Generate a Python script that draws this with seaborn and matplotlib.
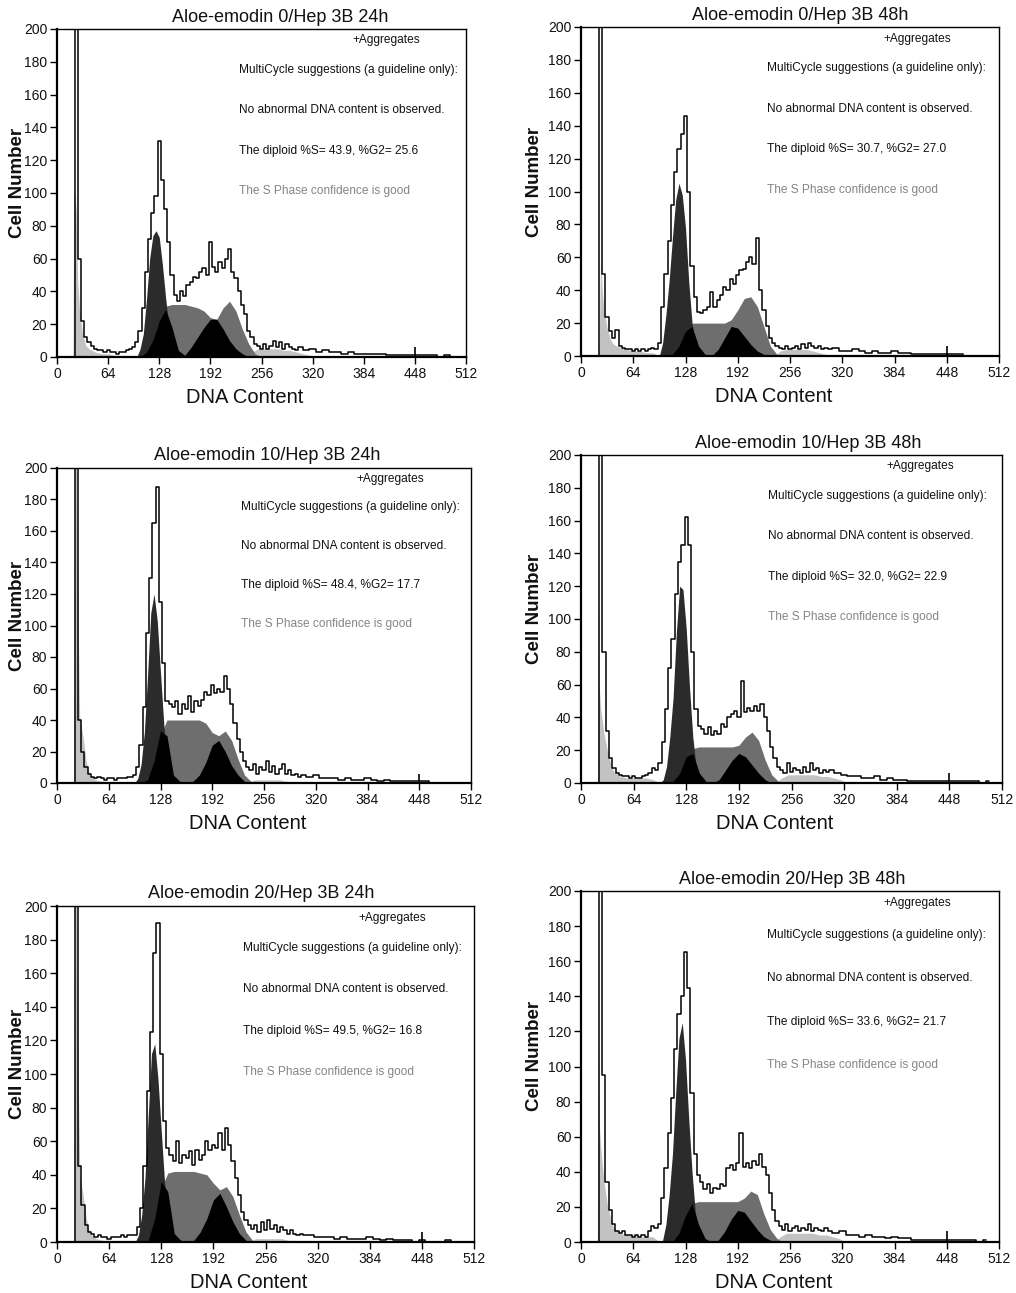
import matplotlib
matplotlib.use("Agg")
import matplotlib.pyplot as plt
import seaborn as sns

# ---------------- data ----------------
TITLES = ["Aloe-emodin 0/Hep 3B 24h", "Aloe-emodin 0/Hep 3B 48h",
          "Aloe-emodin 10/Hep 3B 24h", "Aloe-emodin 10/Hep 3B 48h",
          "Aloe-emodin 20/Hep 3B 24h", "Aloe-emodin 20/Hep 3B 48h"]
S_LINES = ["The diploid %S= 43.9, %G2= 25.6", "The diploid %S= 30.7, %G2= 27.0",
           "The diploid %S= 48.4, %G2= 17.7", "The diploid %S= 32.0, %G2= 22.9",
           "The diploid %S= 49.5, %G2= 16.8", "The diploid %S= 33.6, %G2= 21.7"]
X_TICKS = [0, 64, 128, 192, 256, 320, 384, 448, 512]
Y_TICKS = [0, 20, 40, 60, 80, 100, 120, 140, 160, 180, 200]

# histogram envelope channels
ENV_X = list(range(16, 304, 4)) + list(range(304, 504, 8))
ENV_1 = [0, 0, 230, 60, 22, 12, 9, 7, 5, 4, 4, 3, 4, 3, 3, 2,
         3, 3, 4, 5, 6, 9, 16, 30, 52, 72, 88, 98, 132, 108, 90, 70,
         50, 38, 34, 40, 37, 44, 46, 49, 48, 52, 54, 50, 70, 55, 52, 58,
         54, 60, 66, 52, 48, 40, 32, 26, 16, 12, 8, 7, 5, 8, 5, 7,
         10, 6, 9, 5, 8, 6, 5, 4,
         6, 4, 5, 3, 4, 3, 3, 2, 3, 2, 2, 2, 2, 2, 1, 1, 1, 1, 1, 1, 1, 1, 0, 1, 0]
ENV_2 = [0, 0, 210, 50, 24, 15, 11, 16, 6, 5, 4, 4, 3, 4, 3, 4,
         3, 4, 5, 4, 8, 30, 50, 70, 92, 112, 126, 135, 146, 100, 55, 36,
         27, 26, 28, 30, 39, 30, 34, 37, 42, 40, 47, 44, 49, 52, 53, 57,
         60, 56, 72, 40, 28, 18, 11, 8, 6, 5, 4, 6, 4, 5, 6, 4,
         7, 5, 8, 6, 5, 6, 4, 5,
         4, 5, 3, 3, 4, 3, 2, 3, 2, 2, 3, 2, 2, 1, 1, 1, 1, 1, 1, 1, 1, 0, 0, 0, 0]
ENV_3 = [0, 0, 220, 40, 20, 10, 6, 4, 3, 4, 3, 2, 3, 3, 2, 3,
         3, 3, 4, 4, 5, 10, 24, 48, 95, 130, 165, 188, 115, 76, 52, 50,
         48, 52, 44, 50, 47, 55, 45, 52, 49, 53, 58, 56, 62, 57, 60, 58,
         68, 60, 50, 38, 28, 20, 14, 10, 8, 12, 6, 10, 8, 14, 7, 11,
         6, 9, 12, 6, 8, 5, 6, 4,
         5, 4, 5, 3, 3, 3, 2, 3, 2, 2, 3, 2, 1, 2, 1, 1, 1, 1, 1, 1, 0, 0, 0, 0, 0]
ENV_4 = [0, 0, 220, 80, 32, 15, 9, 6, 5, 4, 4, 3, 4, 3, 3, 4,
         5, 6, 9, 8, 12, 25, 45, 70, 88, 115, 135, 145, 162, 145, 80, 45,
         35, 33, 30, 34, 29, 32, 30, 36, 34, 40, 42, 44, 40, 62, 43, 46,
         44, 47, 44, 48, 40, 32, 22, 15, 10, 8, 6, 12, 7, 9, 8, 6,
         10, 7, 12, 8, 9, 6, 8, 7,
         8, 6, 5, 4, 4, 3, 3, 4, 2, 3, 2, 2, 1, 1, 1, 1, 1, 1, 1, 1, 1, 1, 1, 0, 1]
ENV_5 = [0, 0, 220, 45, 22, 10, 6, 5, 3, 4, 3, 3, 2, 3, 3, 3,
         4, 3, 4, 4, 4, 9, 20, 45, 90, 125, 172, 190, 112, 72, 56, 52,
         48, 60, 47, 52, 50, 54, 46, 55, 49, 52, 60, 55, 58, 56, 65, 55,
         68, 58, 48, 38, 28, 18, 13, 10, 8, 10, 6, 12, 7, 13, 8, 10,
         6, 9, 7, 5, 7, 5, 4, 5,
         4, 4, 3, 3, 3, 2, 3, 2, 2, 2, 3, 2, 1, 2, 1, 1, 1, 0, 1, 0, 0, 0, 1, 0, 0]
ENV_6 = [0, 0, 220, 95, 34, 18, 10, 6, 5, 6, 4, 4, 3, 4, 3, 4,
         3, 6, 9, 8, 10, 25, 42, 62, 82, 110, 130, 140, 165, 145, 85, 50,
         38, 34, 30, 33, 28, 31, 30, 33, 32, 42, 44, 41, 45, 62, 43, 45,
         42, 46, 44, 50, 43, 38, 28, 18, 12, 9, 7, 10, 6, 8, 9, 6,
         8, 7, 10, 6, 8, 7, 6, 8,
         6, 5, 6, 4, 4, 3, 4, 3, 3, 2, 3, 2, 2, 1, 1, 1, 1, 1, 1, 1, 1, 1, 1, 0, 1]

# debris (light grey) at the left
DEB_X = [19, 20, 21, 22, 24, 26, 28, 32, 36, 40, 48, 56, 64, 72, 80, 88, 96]
DEB_1 = [0, 0, 100, 100, 90, 45, 30, 14, 7, 5, 3, 2, 2, 1, 0, 0, 0]
DEB_2 = [0, 0, 0, 0, 60, 40, 28, 17, 10, 7, 5, 4, 3, 3, 2, 2, 0]
DEB_3 = [0, 0, 0, 200, 200, 110, 42, 30, 14, 5, 2, 1, 1, 0, 0, 0, 0]
DEB_4 = [0, 0, 120, 60, 45, 38, 30, 20, 12, 7, 4, 3, 3, 3, 3, 2, 0]
DEB_5 = [0, 0, 0, 200, 200, 100, 40, 28, 14, 5, 2, 1, 1, 0, 0, 0, 0]
DEB_6 = [0, 0, 120, 70, 55, 45, 35, 22, 14, 8, 5, 4, 4, 3, 3, 3, 0]

# aggregates (light grey) under the right tail
TAIL_X = [236, 244, 252, 260, 268, 276, 284, 292, 300, 308, 316, 324]
TAIL_1 = [0, 3, 5, 5, 5, 5, 4, 4, 3, 2, 1, 0]
TAIL_2 = [0, 3, 4, 4, 4, 4, 3, 2, 1, 0, 0, 0]
TAIL_3 = [0, 2, 2, 2, 2, 2, 1, 1, 0, 0, 0, 0]
TAIL_4 = [0, 3, 5, 5, 5, 5, 5, 4, 4, 3, 2, 0]
TAIL_5 = [0, 2, 2, 2, 2, 2, 1, 1, 0, 0, 0, 0]
TAIL_6 = [0, 3, 5, 5, 5, 5, 5, 4, 4, 3, 2, 0]

# G1 peak (dark grey)
G1_X = list(range(96, 160, 4))
G1_1 = [0, 0, 5, 14, 35, 60, 74, 77, 73, 56, 36, 18, 8, 2, 0, 0]
G1_2 = [0, 8, 25, 46, 72, 95, 105, 98, 78, 45, 20, 7, 2, 0, 0, 0]
G1_3 = [0, 3, 12, 32, 68, 108, 120, 103, 70, 38, 14, 4, 1, 0, 0, 0]
G1_4 = [0, 2, 10, 28, 52, 92, 120, 118, 94, 58, 28, 10, 2, 0, 0, 0]
G1_5 = [0, 4, 16, 38, 75, 112, 118, 97, 66, 36, 14, 4, 1, 0, 0, 0]
G1_6 = [0, 1, 10, 27, 50, 85, 116, 125, 104, 70, 40, 17, 5, 1, 0, 0]

# S phase + G2 (mid grey) and black component
COMP_X = list(range(96, 264, 8))
MID_1 = [0, 0, 0, 0, 20, 31, 32, 32, 32, 31, 30, 28, 24, 23, 30, 34, 28, 17, 8, 2, 0]
MID_2 = [0, 0, 0, 0, 10, 20, 20, 20, 20, 20, 20, 22, 28, 35, 36, 30, 18, 6, 1, 0, 0]
MID_3 = [0, 0, 0, 5, 30, 40, 40, 40, 40, 40, 40, 38, 32, 30, 33, 27, 15, 5, 1, 0, 0]
MID_4 = [0, 0, 0, 2, 12, 21, 22, 22, 22, 22, 22, 22, 23, 28, 31, 26, 14, 5, 1, 0, 0]
MID_5 = [0, 0, 0, 5, 32, 41, 42, 42, 42, 42, 41, 40, 35, 31, 33, 27, 16, 6, 1, 0, 0]
MID_6 = [0, 0, 0, 2, 14, 22, 23, 23, 23, 23, 23, 23, 23, 25, 29, 27, 16, 7, 2, 0, 0]
BLK_1 = [0, 0, 3, 10, 22, 29, 18, 4, 1, 6, 12, 18, 23, 23, 17, 10, 5, 2, 0, 0, 0]
BLK_2 = [0, 0, 1, 6, 15, 18, 6, 1, 0, 4, 11, 18, 17, 12, 7, 3, 1, 0, 0, 0, 0]
BLK_3 = [0, 0, 2, 14, 33, 30, 5, 1, 0, 1, 5, 13, 24, 27, 20, 11, 5, 1, 0, 0, 0]
BLK_4 = [0, 0, 1, 6, 16, 18, 6, 1, 0, 2, 8, 14, 18, 16, 11, 6, 2, 0, 0, 0, 0]
BLK_5 = [0, 0, 1, 14, 36, 30, 5, 1, 0, 1, 6, 14, 25, 29, 21, 12, 5, 1, 0, 0, 0]
BLK_6 = [0, 0, 0, 5, 15, 22, 10, 2, 0, 1, 6, 13, 18, 17, 12, 7, 3, 1, 0, 0, 0]

MARKER_X = 448
MARKER_H = 6

ENVS = [ENV_1, ENV_2, ENV_3, ENV_4, ENV_5, ENV_6]
DEBS = [DEB_1, DEB_2, DEB_3, DEB_4, DEB_5, DEB_6]
TAILS = [TAIL_1, TAIL_2, TAIL_3, TAIL_4, TAIL_5, TAIL_6]
G1S = [G1_1, G1_2, G1_3, G1_4, G1_5, G1_6]
MIDS = [MID_1, MID_2, MID_3, MID_4, MID_5, MID_6]
BLKS = [BLK_1, BLK_2, BLK_3, BLK_4, BLK_5, BLK_6]

# ---------------- style / layout ----------------
sns.set_theme(style="white")
plt.rcParams["font.family"] = ["Liberation Sans", "DejaVu Sans"]

W, H = 1016, 1293
# axes boxes in pixels: left, top, right, bottom
BOXES = [(57, 29, 466, 357), (581, 27, 999, 356),
         (57, 468, 471, 783), (581, 455, 1002, 783),
         (57, 906, 474, 1242), (581, 891, 999, 1242)]
TITLE_X = [0.545, 0.524, 0.508, 0.539, 0.489, 0.505]

LIGHT = "#c2c2c2"
MIDC = "#6e6e6e"
DARK = "#2b2b2b"
INK = "#111111"
BODY = 8.6

fig = plt.figure(figsize=(W / 100, H / 100), dpi=100)

for i in range(6):
    l, t, r, b = BOXES[i]
    ax = fig.add_axes([l / W, 1 - b / H, (r - l) / W, (b - t) / H])
    wpx, hpx = r - l, b - t

    ax.fill_between(DEB_X, DEBS[i], color=LIGHT, lw=0)
    ax.fill_between(TAIL_X, TAILS[i], color=LIGHT, lw=0)
    ax.fill_between(COMP_X, MIDS[i], color=MIDC, lw=0)
    ax.fill_between(G1_X, G1S[i], color=DARK, lw=0)
    ax.fill_between(COMP_X, BLKS[i], color="black", lw=0)
    sns.lineplot(x=ENV_X, y=ENVS[i], ax=ax, color="black", lw=1.1,
                 drawstyle="steps-mid", estimator=None, sort=False)
    ax.vlines([MARKER_X], 0, MARKER_H, color="black", lw=1.2)

    ax.set_xlim(0, 512)
    ax.set_ylim(0, 200)
    ax.set_xticks(X_TICKS)
    ax.set_yticks(Y_TICKS)
    ax.tick_params(axis="both", which="major", direction="out", length=5,
                   width=1, color="black", labelsize=10, pad=2,
                   bottom=True, left=True, labelcolor=INK)
    for side in ["top", "right"]:
        ax.spines[side].set_linewidth(1.0)
        ax.spines[side].set_color("black")
    for side in ["left", "bottom"]:
        ax.spines[side].set_linewidth(1.6)
        ax.spines[side].set_color("black")

    ax.set_xlabel("DNA Content", fontsize=14.5, color=INK)
    ax.set_ylabel("Cell Number", fontsize=13.5, fontweight="bold", color=INK)
    ax.xaxis.set_label_coords(0.46, -31 / hpx)
    left_off = 31 if l < 300 else 38
    ax.yaxis.set_label_coords(-left_off / wpx, 0.53)

    ax.text(TITLE_X[i], 1 + 12 / hpx, TITLES[i], transform=ax.transAxes,
            ha="center", va="center", fontsize=13, color=INK)

    ax.text(0.805, 0.965, "+Aggregates", transform=ax.transAxes,
            ha="center", va="center", fontsize=BODY, color=INK)
    ax.text(0.445, 0.875, "MultiCycle suggestions (a guideline only):",
            transform=ax.transAxes, ha="left", va="center", fontsize=BODY,
            color=INK)
    ax.text(0.445, 0.752, "No abnormal DNA content is observed.",
            transform=ax.transAxes, ha="left", va="center", fontsize=BODY,
            color=INK)
    ax.text(0.445, 0.628, S_LINES[i], transform=ax.transAxes, ha="left",
            va="center", fontsize=BODY, color=INK)
    ax.text(0.445, 0.505, "The S Phase confidence is good",
            transform=ax.transAxes, ha="left", va="center", fontsize=BODY,
            color="#858585")

fig.savefig("out.png", dpi=100)
